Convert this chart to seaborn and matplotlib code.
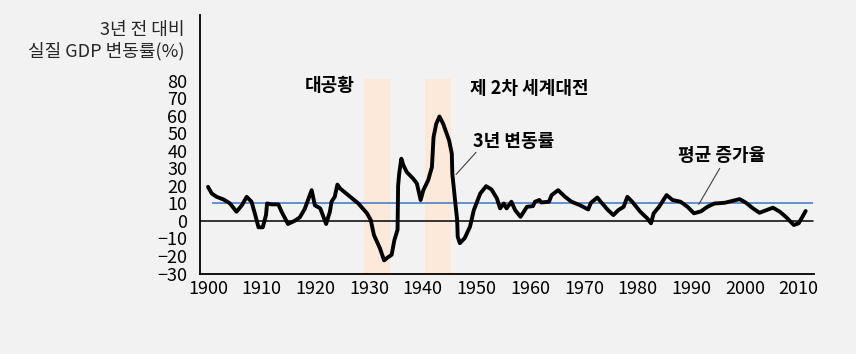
import numpy as np
import pandas as pd
import matplotlib
matplotlib.use('Agg')
import matplotlib.pyplot as plt
import seaborn as sns

years = [1900.0, 1900.7, 1901.6, 1902.9, 1904.1, 1905.3, 1906.3, 1907.2, 1908.1, 1908.8,
         1909.4, 1910.2, 1910.8, 1911.0, 1911.9, 1913.1, 1913.7, 1914.9, 1916.2, 1917.1,
         1918.0, 1919.3, 1919.9, 1920.9, 1922.0, 1922.7, 1923.0, 1923.6, 1924.1, 1924.6,
         1926.1, 1928.0, 1929.6, 1930.3, 1930.9, 1932.0, 1932.8, 1933.4, 1934.2, 1934.7,
         1935.3, 1935.4, 1935.6, 1936.0, 1936.4, 1937.0, 1938.2, 1938.9, 1939.6, 1940.1,
         1941.0, 1941.7, 1942.0, 1942.5, 1943.1, 1943.8, 1944.9, 1945.4, 1945.5, 1946.0,
         1946.4, 1946.5, 1946.9, 1947.8, 1948.8, 1949.5, 1950.7, 1951.8, 1952.8, 1953.8,
         1954.4, 1955.1, 1955.6, 1956.5, 1957.2, 1958.2, 1959.4, 1960.5, 1960.9, 1961.7,
         1962.1, 1963.5, 1964.0, 1965.2, 1966.5, 1967.7, 1969.3, 1970.8, 1971.3, 1972.5,
         1973.3, 1974.5, 1975.5, 1976.4, 1977.4, 1978.1, 1979.0, 1980.5, 1981.8, 1982.5,
         1983.0, 1984.0, 1984.6, 1985.4, 1986.5, 1988.0, 1989.3, 1990.5, 1991.8, 1993.0,
         1994.3, 1996.2, 1997.7, 1999.0, 2000.2, 2001.5, 2002.7, 2004.0, 2005.2, 2006.5,
         2007.7, 2009.1, 2010.0, 2010.7, 2011.3]
change = [19.5, 15.7, 13.8, 12.3, 10.0, 5.3, 9.0, 13.8, 11.0, 3.4,
          -3.6, -3.6, 3.4, 10.0, 9.5, 9.5, 5.3, -1.7, 0.2, 2.1,
          6.8, 17.6, 9.0, 7.2, -1.7, 5.3, 11.0, 13.8, 20.8, 18.6,
          14.8, 10.0, 4.4, 0.6, -8.0, -15.5, -22.5, -21.0, -19.3, -11.0,
          -5.0, 20.0, 27.0, 35.6, 31.8, 28.0, 24.2, 21.4, 12.0, 17.6,
          23.3, 30.8, 47.9, 55.5, 59.7, 55.5, 46.0, 38.5, 27.0, 12.0,
          0.6, -8.9, -12.7, -9.8, -3.2, 6.2, 15.7, 19.9, 18.0, 12.9,
          7.2, 10.0, 7.2, 11.0, 6.2, 2.4, 8.1, 8.5, 11.0, 12.0,
          10.6, 11.0, 14.8, 17.6, 13.8, 11.0, 9.0, 6.6, 10.4, 13.4,
          10.4, 6.2, 3.4, 6.2, 8.1, 13.8, 11.0, 5.3, 1.5, -1.3,
          4.4, 8.1, 11.0, 14.8, 12.0, 11.0, 8.1, 4.4, 5.5, 8.1,
          10.0, 10.4, 11.5, 12.5, 10.4, 7.2, 4.7, 6.2, 7.6, 5.3,
          2.1, -2.3, -1.3, 2.4, 5.7]
avg_growth = 10
depression = (1929.0, 1933.9)
ww2 = (1940.4, 1945.25)
xticks = list(range(1900, 2011, 10))
yticks = list(range(-30, 81, 10))

df = pd.DataFrame({'year': years, 'change': change})

sns.set_theme(style='white')
plt.rcParams['font.family'] = ['Noto Sans CJK KR', 'DejaVu Sans']
bg = '#f2f2f2'

fig = plt.figure(figsize=(8.56, 3.54), dpi=100, facecolor=bg)
ax = fig.add_axes([0.2336, 0.2274, 0.7173, 0.7302], facecolor=bg)

# shaded periods
for a, b in (depression, ww2):
    ax.fill_between([a, b], -30, 81, color='#fde9d9', lw=0, zorder=0)

ax.axhline(0, color='black', lw=1.1, zorder=1, xmax=0.999)
ax.hlines(avg_growth, 1900.8, 2012.7, color='#4f81bd', lw=1.2, zorder=2)

sns.lineplot(data=df, x='year', y='change', sort=False, estimator=None,
             color='black', lw=2.8, ax=ax, zorder=3)
ax.lines[-1].set_solid_joinstyle('round')
ax.lines[-1].set_solid_capstyle('round')

ax.set_xlim(1898.5, 2012.85)
ax.set_ylim(-30, 117.7)
ax.set_xticks(xticks)
ax.set_yticks(yticks)
ax.set_xlabel('')
ax.set_ylabel('')
ax.tick_params(axis='both', direction='in', colors='black', width=1.1, labelsize=13)
ax.tick_params(axis='x', length=8, pad=5)
ax.tick_params(axis='y', length=7, pad=9)
for s in ['top', 'right']:
    ax.spines[s].set_visible(False)
for s in ['left', 'bottom']:
    ax.spines[s].set_color('black')
    ax.spines[s].set_linewidth(1.3)

# annotations
fs = 13
kw = dict(ha='center', va='center', fontsize=fs, color='black', fontweight='bold')
ax.text(1922.7, 77.5, '대공황', **kw)
ax.text(1959.8, 75.8, '제 2차 세계대전', **kw)
ax.text(1957.0, 45.5, '3년 변동률', **kw)
ax.plot([1949.9, 1946.2], [39.2, 26.6], color='#404040', lw=0.8)
ax.text(1995.7, 37.5, '평균 증가율', **kw)
ax.plot([1995.3, 1991.4], [30.1, 9.5], color='#404040', lw=0.8)

fig.text(185 / 856, 1 - 30 / 354, '3년 전 대비', ha='right', va='center', fontsize=fs)
fig.text(185 / 856, 1 - 51 / 354, '실질 GDP 변동률(%)', ha='right', va='center', fontsize=fs)

fig.savefig('out.png', dpi=100, facecolor=bg)
